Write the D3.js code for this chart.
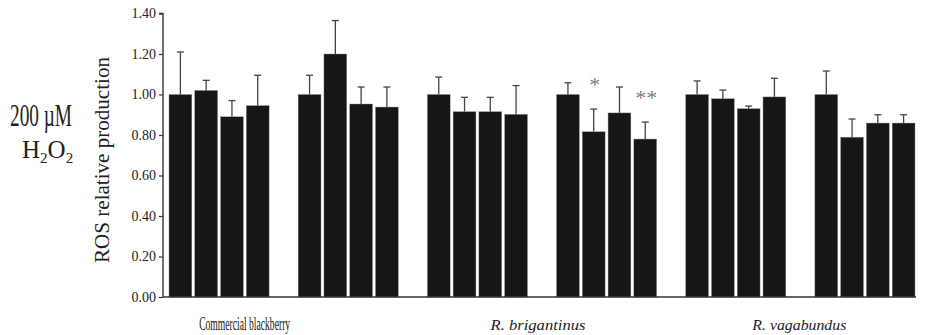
<!DOCTYPE html>
<html>
<head>
<meta charset="utf-8">
<script src="https://cdn.jsdelivr.net/npm/d3@7"></script>
<style>
  html, body { margin: 0; padding: 0; background: #fff; }
  svg { display: block; }
  text { font-family: "Liberation Serif", "Times New Roman", serif; }
</style>
</head>
<body>
<svg id="chart" width="934" height="335"></svg>
<script>
// ---- data ----
const groups = ["G1", "G2", "G3", "G4", "G5", "G6"];
const barKeys = ["b1", "b2", "b3", "b4"];
const means = [
  [1.00, 1.02, 0.89, 0.945],
  [1.00, 1.20, 0.953, 0.938],
  [1.00, 0.915, 0.915, 0.902],
  [1.00, 0.816, 0.909, 0.780],
  [1.00, 0.979, 0.930, 0.988],
  [1.00, 0.789, 0.859, 0.859]
];
const errors = [
  [0.21, 0.05, 0.08, 0.15],
  [0.095, 0.165, 0.084, 0.099],
  [0.086, 0.071, 0.071, 0.142],
  [0.058, 0.112, 0.128, 0.084],
  [0.067, 0.043, 0.013, 0.092],
  [0.116, 0.09, 0.041, 0.041]
];
const significance = [
  { group: 3, bar: 1, mark: "*" },
  { group: 3, bar: 3, mark: "**" }
];
const yTicks = [0, 0.2, 0.4, 0.6, 0.8, 1.0, 1.2, 1.4];
const categoryLabels = ["Commercial blackberry", "R.  brigantinus", "R. vagabundus"];
const categoryItalic = [false, true, true];
const yTitle = "ROS relative production";

// ---- layout ----
const svg = d3.select("#chart");
const axisX = 163, axisRight = 916;
const y = d3.scaleLinear().domain([0, 1.4]).range([297, 13.5]);
const x0 = d3.scaleBand().domain(groups).range([169, 915]).paddingInner(0.225).paddingOuter(0);
const x1 = d3.scaleBand().domain(barKeys).range([0, x0.bandwidth()]).paddingInner(0.115);

// y axis
const yAxis = d3.axisLeft(y).tickValues(yTicks).tickFormat(d3.format(".2f")).tickSize(4).tickPadding(3);
const gy = svg.append("g").attr("transform", `translate(${axisX},0)`).call(yAxis);
gy.select(".domain").attr("stroke", "#333").attr("stroke-width", 1.4).attr("d", `M-4,${y(1.4)}H0V${y(0)}`);
gy.selectAll(".tick line").attr("stroke", "#333").attr("stroke-width", 1.2);
gy.selectAll(".tick text").attr("font-size", 14).attr("fill", "#222")
  .attr("font-family", "'Liberation Serif', 'Times New Roman', serif");

// bars
const rows = [];
groups.forEach((g, gi) => barKeys.forEach((k, bi) => rows.push({ g, k, gi, bi, v: means[gi][bi], e: errors[gi][bi] })));

// error bars (behind bars)
const eb = svg.append("g").attr("stroke", "#444").attr("stroke-width", 1.3);
rows.forEach(r => {
  const cx = x0(r.g) + x1(r.k) + x1.bandwidth() / 2;
  eb.append("line").attr("x1", cx).attr("x2", cx).attr("y1", y(r.v)).attr("y2", y(r.v + r.e));
  eb.append("line").attr("x1", cx - 3.5).attr("x2", cx + 3.5).attr("y1", y(r.v + r.e)).attr("y2", y(r.v + r.e));
});

svg.append("g").selectAll("rect").data(rows).join("rect")
  .attr("x", d => x0(d.g) + x1(d.k))
  .attr("width", x1.bandwidth())
  .attr("y", d => y(d.v))
  .attr("height", d => y(0) - y(d.v))
  .attr("fill", "#161616")
  .attr("stroke", "#8a8a8a")
  .attr("stroke-width", 0.4);

// x axis line
svg.append("line").attr("x1", axisX).attr("x2", axisRight).attr("y1", y(0)).attr("y2", y(0))
  .attr("stroke", "#333").attr("stroke-width", 1.4);

// significance marks
significance.forEach(s => {
  const g = groups[s.group], k = barKeys[s.bar];
  const cx = x0(g) + x1(k) + x1.bandwidth() / 2;
  const top = y(means[s.group][s.bar] + errors[s.group][s.bar]);
  svg.append("text").attr("x", cx + 1).attr("y", top - 17)
    .attr("text-anchor", "middle").attr("font-size", 22).attr("fill", "#7d7d7d").text(s.mark);
});

// category labels (each spans two groups)
const labelX = [
  (x0(groups[0]) + x0(groups[1]) + x0.bandwidth()) / 2 - 39,
  (x0(groups[2]) + x0(groups[3]) + x0.bandwidth()) / 2 - 4,
  (x0(groups[4]) + x0(groups[5]) + x0.bandwidth()) / 2 - 1
];
const labelLen = [91, 95, 94];
const labelSize = [18, 15, 15];
categoryLabels.forEach((t, i) => {
  svg.append("text").attr("x", labelX[i] - labelLen[i] / 2).attr("y", 330)
    .attr("font-size", labelSize[i]).attr("fill", "#222")
    .attr("font-style", categoryItalic[i] ? "italic" : "normal")
    .attr("textLength", labelLen[i]).attr("lengthAdjust", "spacingAndGlyphs")
    .text(t);
});

// y-axis title
svg.append("text").attr("transform", `translate(109,160) rotate(-90)`)
  .attr("text-anchor", "middle").attr("font-size", 21).attr("fill", "#222")
  .attr("textLength", 206).attr("lengthAdjust", "spacingAndGlyphs")
  .text(yTitle);

// left condition label
svg.append("text").attr("x", 10).attr("y", 126).attr("font-size", 31).attr("fill", "#222")
  .attr("textLength", 62).attr("lengthAdjust", "spacingAndGlyphs").text("200 µM");
const h = svg.append("text").attr("x", 22).attr("y", 158).attr("font-size", 25).attr("fill", "#222");
h.append("tspan").text("H");
h.append("tspan").attr("font-size", 15).attr("dy", 5).text("2");
h.append("tspan").attr("dy", -5).text("O");
h.append("tspan").attr("font-size", 15).attr("dy", 5).text("2");
</script>
</body>
</html>
